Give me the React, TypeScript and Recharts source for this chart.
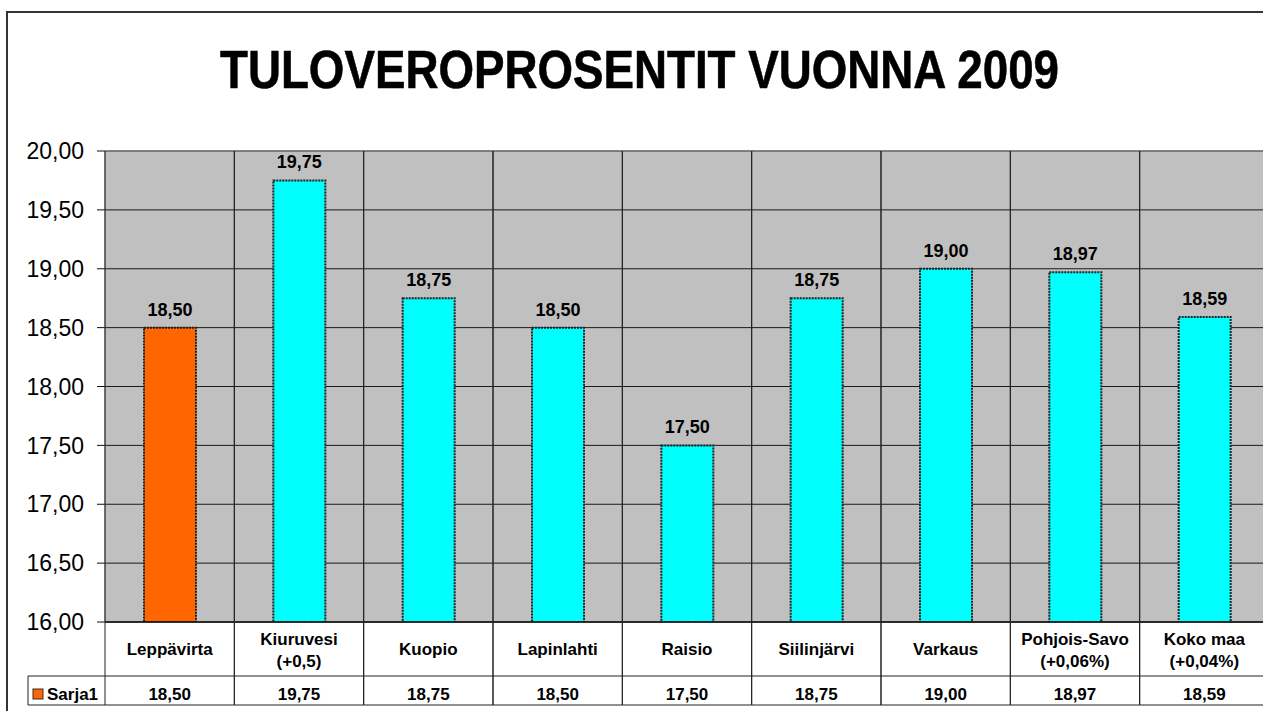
import React from 'react';
import { BarChart, Bar, XAxis, YAxis, CartesianGrid, Cell, LabelList, ReferenceLine } from 'recharts';

// category labels (line breaks as in the original table header)
const categories = [
  'Leppävirta',
  'Kiuruvesi\n(+0,5)',
  'Kuopio',
  'Lapinlahti',
  'Raisio',
  'Siilinjärvi',
  'Varkaus',
  'Pohjois-Savo\n(+0,06%)',
  'Koko maa\n(+0,04%)',
];
const values = [18.5, 19.75, 18.75, 18.5, 17.5, 18.75, 19.0, 18.97, 18.59];
const seriesName = 'Sarja1';
const yTicks = [16, 16.5, 17, 17.5, 18, 18.5, 19, 19.5, 20];
const highlightIndex = 0;

const data = categories.map((name, i) => ({ name, value: values[i] }));

const FONT = 'Arial, "Liberation Sans", sans-serif';
const fmt = (v: number) => v.toFixed(2).replace('.', ',');

// layout
const CHART_W = 1272;
const CHART_H = 711;
const PLOT_TOP = 151;
const PLOT_H = 471;
const AXIS_H = 83;
const HEADER_H = 54;
const TABLE_LEFT = 28;
const LINE = '#222';

const TableTick = (props: any) => {
  const { x, y, payload, index } = props;
  const half = payload.offset || (1164 / 9) / 2;
  const lines = String(payload.value).split('\n');
  const left = x - half;
  const right = x + half;
  const textStyle = { fontFamily: FONT, fontSize: 17, fontWeight: 700, fill: '#000' };
  return (
    <g>
      <line x1={left} y1={y - PLOT_H} x2={left} y2={y + AXIS_H} stroke={LINE} strokeWidth={1} />
      <line x1={right} y1={y - PLOT_H} x2={right} y2={y + AXIS_H} stroke={LINE} strokeWidth={1} />
      <line x1={left} y1={y + HEADER_H} x2={right} y2={y + HEADER_H} stroke={LINE} strokeWidth={1} />
      <line x1={left} y1={y + AXIS_H} x2={right} y2={y + AXIS_H} stroke={LINE} strokeWidth={1} />
      {lines.length === 1 ? (
        <text x={x} y={y + 33} textAnchor="middle" {...textStyle}>{lines[0]}</text>
      ) : (
        <>
          <text x={x} y={y + 23} textAnchor="middle" {...textStyle}>{lines[0]}</text>
          <text x={x} y={y + 45} textAnchor="middle" {...textStyle}>{lines[1]}</text>
        </>
      )}
      <text x={x} y={y + 78} textAnchor="middle" {...textStyle}>{fmt(values[index])}</text>
      {index === 0 && (
        <g>
          <line x1={TABLE_LEFT} y1={y + HEADER_H} x2={left} y2={y + HEADER_H} stroke={LINE} />
          <line x1={TABLE_LEFT} y1={y + AXIS_H} x2={left} y2={y + AXIS_H} stroke={LINE} />
          <line x1={TABLE_LEFT} y1={y + HEADER_H} x2={TABLE_LEFT} y2={y + AXIS_H} stroke={LINE} />
          <rect x={33} y={y + 67} width={10} height={10} fill="#FF6600" stroke="#333" strokeWidth={1} />
          <text x={47} y={y + 78} {...textStyle}>{seriesName}</text>
        </g>
      )}
    </g>
  );
};

export default function App() {
  return (
    <div style={{ position: 'fixed', left: 0, top: 0, width: 1263, height: 711, overflow: 'hidden', background: '#fff' }}>
      <div style={{ position: 'absolute', left: 6, top: 11, width: 1400, height: 800, border: '2px solid #333' }} />
      <svg style={{ position: 'absolute', left: 0, top: 0 }} width={1263} height={120}>
        <text
          x={220}
          y={88}
          textLength={839}
          lengthAdjust="spacingAndGlyphs"
          fontFamily={FONT}
          fontSize={54}
          fontWeight={700}
          fill="#000"
          stroke="#000"
          strokeWidth={0.6}
        >
          TULOVEROPROSENTIT VUONNA 2009
        </text>
      </svg>
      <div style={{ position: 'absolute', left: 0, top: 0 }}>
        <BarChart
          width={CHART_W}
          height={CHART_H}
          data={data}
          margin={{ top: PLOT_TOP, right: 3, left: 0, bottom: CHART_H - PLOT_TOP - PLOT_H - AXIS_H }}
        >
          <CartesianGrid horizontal vertical={false} fill="#C0C0C0" fillOpacity={1} stroke="#1a1a1a" />
          <XAxis
            dataKey="name"
            interval={0}
            height={AXIS_H}
            tickSize={0}
            tickMargin={0}
            tickLine={false}
            axisLine={{ stroke: '#111', strokeWidth: 1.5 }}
            tick={<TableTick />}
          />
          <YAxis
            width={105}
            domain={[16, 20]}
            ticks={yTicks}
            interval={0}
            tickSize={8}
            tickMargin={13}
            tickFormatter={fmt}
            tick={{ fontFamily: FONT, fontSize: 23, fill: '#000' }}
            tickLine={{ stroke: '#111' }}
            axisLine={{ stroke: '#777' }}
            allowDataOverflow
          />
          <ReferenceLine y={20} stroke="#808080" strokeWidth={1.5} />
          <Bar dataKey="value" barSize={52} stroke="#222" strokeWidth={2} strokeDasharray="2 1" isAnimationActive={false}>
            {data.map((_, i) => (
              <Cell key={`cell-${i}`} fill={i === highlightIndex ? '#FF6600' : '#00FFFF'} />
            ))}
            <LabelList
              dataKey="value"
              position="top"
              offset={12}
              formatter={(v: any) => fmt(Number(v))}
              style={{ fontFamily: FONT, fontSize: 18, fontWeight: 700, fill: '#000' }}
            />
          </Bar>
        </BarChart>
      </div>
    </div>
  );
}
